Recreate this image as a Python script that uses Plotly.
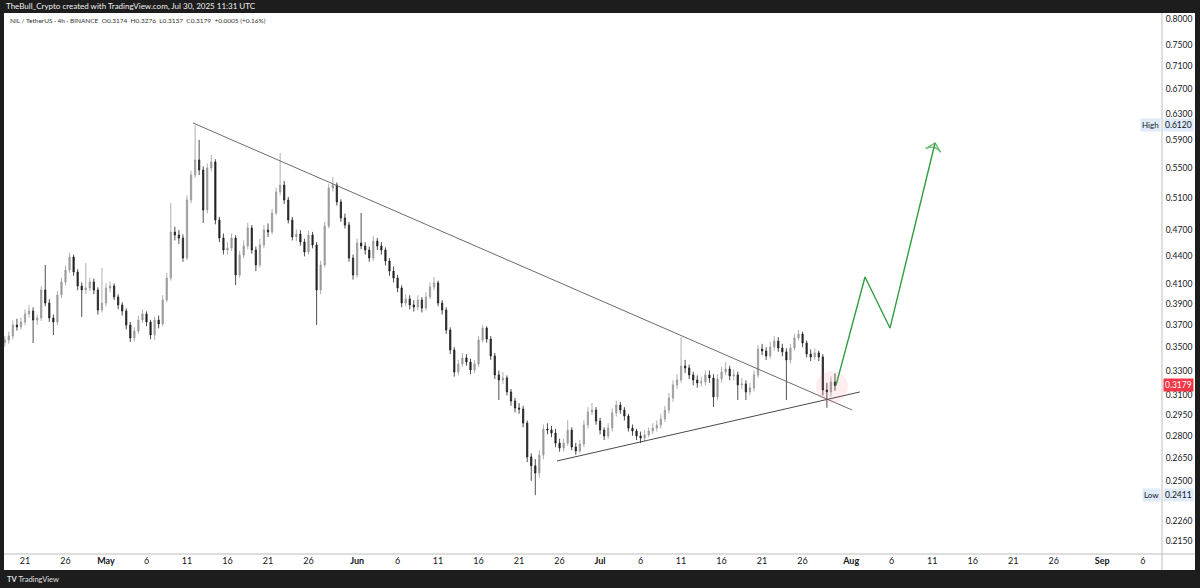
import math
import pandas as pd
import plotly.graph_objects as go

# ---------------- data (12h candles) ----------------
start_time = "2025-04-18 12:00"

opens = [
    0.3540, 0.3564, 0.3600, 0.3701, 0.3683, 0.3729, 0.3806, 0.3834, 0.3748, 0.3768,
    0.4043, 0.3912, 0.3768, 0.3729, 0.3993, 0.4125, 0.4251, 0.4393, 0.4230, 0.4084,
    0.4043, 0.4063, 0.4125, 0.4043, 0.3844, 0.3912, 0.4063, 0.4084, 0.3973, 0.3893,
    0.3834, 0.3701, 0.3582, 0.3646, 0.3748, 0.3806, 0.3729, 0.3609, 0.3748, 0.3711,
    0.3942, 0.4166, 0.4678, 0.4643, 0.4608, 0.4382, 0.5071, 0.5401, 0.5609, 0.5469,
    0.4945, 0.5497, 0.5581, 0.4822, 0.4608, 0.4471, 0.4494, 0.4608, 0.4198, 0.4415,
    0.4516, 0.4726, 0.4471, 0.4306, 0.4528, 0.4702, 0.4678, 0.4908, 0.5175, 0.5266,
    0.5071, 0.4822, 0.4620, 0.4655, 0.4562, 0.4449, 0.4643, 0.4528, 0.4043, 0.4306,
    0.4750, 0.5227, 0.5266, 0.5046, 0.4847, 0.4762, 0.4382, 0.4198, 0.4551, 0.4516,
    0.4471, 0.4382, 0.4573, 0.4516, 0.4471, 0.4349, 0.4240, 0.4166, 0.4063, 0.3912,
    0.3953, 0.3893, 0.3873, 0.3942, 0.3863, 0.3973, 0.4074, 0.4115, 0.3912, 0.3844,
    0.3655, 0.3476, 0.3288, 0.3355, 0.3407, 0.3372, 0.3305, 0.3355, 0.3564, 0.3673,
    0.3573, 0.3424, 0.3264, 0.3223, 0.3239, 0.3127, 0.3056, 0.3003, 0.2995, 0.2891,
    0.2655, 0.2596, 0.2550, 0.2668, 0.2848, 0.2841, 0.2820, 0.2749, 0.2715, 0.2749,
    0.2841, 0.2722, 0.2695, 0.2742, 0.2877, 0.2973, 0.2988, 0.2906, 0.2841, 0.2799,
    0.2855, 0.2966, 0.3026, 0.2988, 0.2943, 0.2855, 0.2834, 0.2799, 0.2784, 0.2806,
    0.2834, 0.2855, 0.2877, 0.2921, 0.2988, 0.3080, 0.3183, 0.3223, 0.3338, 0.3322,
    0.3264, 0.3223, 0.3199, 0.3207, 0.3264, 0.3239, 0.3088, 0.3231, 0.3288, 0.3313,
    0.3256, 0.3264, 0.3183, 0.3191, 0.3127, 0.3159, 0.3264, 0.3484, 0.3467, 0.3424,
    0.3502, 0.3555, 0.3493, 0.3459, 0.3389, 0.3493, 0.3582, 0.3618, 0.3537, 0.3441,
    0.3415, 0.3450, 0.3415, 0.3143, 0.3127, 0.3207,
]

highs = [
    0.3600, 0.3640, 0.3745, 0.3760, 0.3770, 0.3850, 0.3890, 0.3870, 0.3800, 0.4080,
    0.4306, 0.3950, 0.3800, 0.4030, 0.4170, 0.4300, 0.4440, 0.4420, 0.4260, 0.4120,
    0.4328, 0.4170, 0.4160, 0.4070, 0.4273, 0.4110, 0.4130, 0.4110, 0.4000, 0.3920,
    0.3860, 0.3730, 0.3680, 0.3790, 0.3850, 0.3830, 0.3750, 0.3780, 0.3790, 0.3990,
    0.4220, 0.5033, 0.4740, 0.4700, 0.4650, 0.5130, 0.5460, 0.6120, 0.5900, 0.5520,
    0.5560, 0.5680, 0.5620, 0.4860, 0.4660, 0.4560, 0.4660, 0.4640, 0.4460, 0.4580,
    0.4790, 0.4760, 0.4510, 0.4600, 0.4760, 0.4780, 0.4960, 0.5230, 0.5708, 0.5320,
    0.5110, 0.4860, 0.4710, 0.4700, 0.4600, 0.4690, 0.4680, 0.4560, 0.4350, 0.4800,
    0.5280, 0.5373, 0.5300, 0.5080, 0.4900, 0.4800, 0.4420, 0.4600, 0.4908, 0.4560,
    0.4510, 0.4630, 0.4610, 0.4560, 0.4500, 0.4380, 0.4290, 0.4200, 0.4090, 0.4000,
    0.3990, 0.3940, 0.3990, 0.3970, 0.4020, 0.4120, 0.4180, 0.4140, 0.3940, 0.3870,
    0.3680, 0.3500, 0.3390, 0.3450, 0.3440, 0.3400, 0.3390, 0.3600, 0.3701, 0.3690,
    0.3600, 0.3450, 0.3300, 0.3290, 0.3260, 0.3150, 0.3080, 0.3040, 0.3020, 0.2910,
    0.2680, 0.2640, 0.2700, 0.2880, 0.2890, 0.2870, 0.2850, 0.2780, 0.2780, 0.2913,
    0.2860, 0.2750, 0.2770, 0.2910, 0.3010, 0.3041, 0.3010, 0.2930, 0.2860, 0.2890,
    0.3000, 0.3060, 0.3050, 0.3010, 0.2960, 0.2880, 0.2850, 0.2830, 0.2840, 0.2860,
    0.2890, 0.2910, 0.2960, 0.3020, 0.3120, 0.3220, 0.3270, 0.3591, 0.3390, 0.3350,
    0.3290, 0.3260, 0.3250, 0.3300, 0.3300, 0.3270, 0.3270, 0.3330, 0.3370, 0.3340,
    0.3310, 0.3290, 0.3240, 0.3220, 0.3200, 0.3300, 0.3520, 0.3530, 0.3500, 0.3550,
    0.3600, 0.3590, 0.3530, 0.3490, 0.3530, 0.3620, 0.3655, 0.3640, 0.3560, 0.3480,
    0.3490, 0.3470, 0.3440, 0.3200, 0.3250, 0.3276,
]

lows = [
    0.3505, 0.3530, 0.3570, 0.3650, 0.3660, 0.3700, 0.3770, 0.3537, 0.3700, 0.3740,
    0.3880, 0.3730, 0.3609, 0.3700, 0.3960, 0.4090, 0.4220, 0.4190, 0.4040, 0.3776,
    0.4000, 0.4030, 0.4000, 0.3800, 0.3820, 0.3880, 0.4020, 0.3940, 0.3850, 0.3790,
    0.3660, 0.3545, 0.3550, 0.3620, 0.3720, 0.3690, 0.3570, 0.3564, 0.3670, 0.3690,
    0.3920, 0.4140, 0.4580, 0.4540, 0.4340, 0.4360, 0.5030, 0.5360, 0.5400, 0.4786,
    0.4900, 0.5450, 0.4770, 0.4560, 0.4420, 0.4420, 0.4460, 0.4094, 0.4170, 0.4380,
    0.4480, 0.4430, 0.4240, 0.4280, 0.4490, 0.4620, 0.4650, 0.4880, 0.5130, 0.5020,
    0.4780, 0.4580, 0.4570, 0.4520, 0.4400, 0.4420, 0.4490, 0.3701, 0.4000, 0.4280,
    0.4720, 0.5180, 0.5000, 0.4800, 0.4720, 0.4340, 0.4150, 0.4170, 0.4480, 0.4420,
    0.4340, 0.4350, 0.4470, 0.4420, 0.4300, 0.4190, 0.4120, 0.4020, 0.3870, 0.3880,
    0.3850, 0.3830, 0.3840, 0.3820, 0.3840, 0.3950, 0.4040, 0.3880, 0.3800, 0.3620,
    0.3440, 0.3250, 0.3260, 0.3330, 0.3340, 0.3270, 0.3280, 0.3330, 0.3540, 0.3540,
    0.3390, 0.3230, 0.3064, 0.3190, 0.3100, 0.3020, 0.2970, 0.2960, 0.2860, 0.2620,
    0.2500, 0.2411, 0.2520, 0.2640, 0.2810, 0.2790, 0.2720, 0.2690, 0.2690, 0.2730,
    0.2700, 0.2670, 0.2680, 0.2720, 0.2850, 0.2950, 0.2880, 0.2810, 0.2770, 0.2780,
    0.2830, 0.2940, 0.2960, 0.2910, 0.2830, 0.2800, 0.2770, 0.2749, 0.2760, 0.2790,
    0.2810, 0.2830, 0.2850, 0.2900, 0.2960, 0.3050, 0.3150, 0.3200, 0.3280, 0.3230,
    0.3180, 0.3160, 0.3170, 0.3180, 0.3200, 0.3011, 0.3060, 0.3200, 0.3260, 0.3220,
    0.3220, 0.3064, 0.3150, 0.3064, 0.3100, 0.3130, 0.3240, 0.3430, 0.3390, 0.3400,
    0.3470, 0.3460, 0.3420, 0.3064, 0.3360, 0.3470, 0.3560, 0.3500, 0.3410, 0.3380,
    0.3390, 0.3380, 0.3100, 0.3005, 0.3090, 0.3137,
]

closes = [
    0.3564, 0.3600, 0.3701, 0.3683, 0.3729, 0.3806, 0.3834, 0.3748, 0.3768, 0.4043,
    0.3912, 0.3768, 0.3729, 0.3993, 0.4125, 0.4251, 0.4393, 0.4230, 0.4084, 0.4043,
    0.4063, 0.4125, 0.4043, 0.3844, 0.3912, 0.4063, 0.4084, 0.3973, 0.3893, 0.3834,
    0.3701, 0.3582, 0.3646, 0.3748, 0.3806, 0.3729, 0.3609, 0.3748, 0.3711, 0.3942,
    0.4166, 0.4678, 0.4643, 0.4608, 0.4382, 0.5071, 0.5401, 0.5609, 0.5469, 0.4945,
    0.5497, 0.5581, 0.4822, 0.4608, 0.4471, 0.4494, 0.4608, 0.4198, 0.4415, 0.4516,
    0.4726, 0.4471, 0.4306, 0.4528, 0.4702, 0.4678, 0.4908, 0.5175, 0.5266, 0.5071,
    0.4822, 0.4620, 0.4655, 0.4562, 0.4449, 0.4643, 0.4528, 0.4043, 0.4306, 0.4750,
    0.5227, 0.5266, 0.5046, 0.4847, 0.4762, 0.4382, 0.4198, 0.4551, 0.4516, 0.4471,
    0.4382, 0.4573, 0.4516, 0.4471, 0.4349, 0.4240, 0.4166, 0.4063, 0.3912, 0.3953,
    0.3893, 0.3873, 0.3942, 0.3863, 0.3973, 0.4074, 0.4115, 0.3912, 0.3844, 0.3655,
    0.3476, 0.3288, 0.3355, 0.3407, 0.3372, 0.3305, 0.3355, 0.3564, 0.3673, 0.3573,
    0.3424, 0.3264, 0.3223, 0.3239, 0.3127, 0.3056, 0.3003, 0.2995, 0.2891, 0.2655,
    0.2596, 0.2550, 0.2668, 0.2848, 0.2841, 0.2820, 0.2749, 0.2715, 0.2749, 0.2841,
    0.2722, 0.2695, 0.2742, 0.2877, 0.2973, 0.2988, 0.2906, 0.2841, 0.2799, 0.2855,
    0.2966, 0.3026, 0.2988, 0.2943, 0.2855, 0.2834, 0.2799, 0.2784, 0.2806, 0.2834,
    0.2855, 0.2877, 0.2921, 0.2988, 0.3080, 0.3183, 0.3223, 0.3338, 0.3322, 0.3264,
    0.3223, 0.3199, 0.3207, 0.3264, 0.3239, 0.3088, 0.3231, 0.3288, 0.3313, 0.3256,
    0.3264, 0.3183, 0.3191, 0.3127, 0.3159, 0.3264, 0.3484, 0.3467, 0.3424, 0.3502,
    0.3555, 0.3493, 0.3459, 0.3389, 0.3493, 0.3582, 0.3618, 0.3537, 0.3441, 0.3415,
    0.3450, 0.3415, 0.3143, 0.3127, 0.3207, 0.3179,
]

# price-axis ticks
y_ticks = [0.8000, 0.7500, 0.7100, 0.6700, 0.6300, 0.5900, 0.5500, 0.5100, 0.4700,
           0.4400, 0.4100, 0.3900, 0.3700, 0.3500, 0.3300, 0.3100, 0.2950, 0.2800,
           0.2650, 0.2500, 0.2260, 0.2150]

# time-axis ticks
x_tick_dates = ["2025-04-21", "2025-04-26", "2025-05-01", "2025-05-06", "2025-05-11",
                "2025-05-16", "2025-05-21", "2025-05-26", "2025-06-01", "2025-06-06",
                "2025-06-11", "2025-06-16", "2025-06-21", "2025-06-26", "2025-07-01",
                "2025-07-06", "2025-07-11", "2025-07-16", "2025-07-21", "2025-07-26",
                "2025-08-01", "2025-08-06", "2025-08-11", "2025-08-16", "2025-08-21",
                "2025-08-26", "2025-09-01", "2025-09-06"]
x_tick_labels = ["21", "26", "<b>May</b>", "6", "11", "16", "21", "26", "<b>Jun</b>", "6",
                 "11", "16", "21", "26", "<b>Jul</b>", "6", "11", "16", "21", "26",
                 "<b>Aug</b>", "6", "11", "16", "21", "26", "<b>Sep</b>", "6"]

# drawings
desc_line_dates = ["2025-05-11 17:45", "2025-08-01 02:30"]
desc_line_prices = [0.6157, 0.2988]
asc_line_dates = ["2025-06-25 16:20", "2025-08-02 02:00"]
asc_line_prices = [0.2628, 0.3127]
proj_dates = ["2025-07-30 03:00", "2025-08-02 17:00", "2025-08-05 19:00", "2025-08-11 08:30"]
proj_prices = [0.3179, 0.4177, 0.3673, 0.5854]
circle_date = ["2025-07-29 15:00"]
circle_price = [0.3167]

last_price = 0.3179
high_price = 0.6120
low_price = 0.2411
x_range = ["2025-04-18 09:45", "2025-09-08 09:00"]
y_range = [0.2079, 0.8122]

dates = pd.date_range(start_time, periods=len(closes), freq="12h")

# ---------------- figure ----------------
W, H = 1200, 588
ML, MR, MT, MB = 4, 38, 13, 34
PW, PH = W - ML - MR, H - MT - MB


def px_x(px):
    return (px - ML) / PW


def px_y(py):
    return (H - MB - py) / PH


FONT = "Lato, 'Liberation Sans', sans-serif"
TXT = "#131722"

fig = go.Figure()

fig.add_trace(go.Candlestick(
    x=dates, open=opens, high=highs, low=lows, close=closes,
    increasing=dict(line=dict(color="#9a9a9a", width=0.8), fillcolor="#9a9a9a"),
    decreasing=dict(line=dict(color="#222222", width=0.8), fillcolor="#222222"),
    whiskerwidth=0, hoverinfo="skip", showlegend=False,
))

fig.add_trace(go.Scatter(
    x=desc_line_dates, y=desc_line_prices, mode="lines",
    line=dict(color="#6b6b6b", width=1), hoverinfo="skip", showlegend=False))
fig.add_trace(go.Scatter(
    x=asc_line_dates, y=asc_line_prices, mode="lines",
    line=dict(color="#4a4a4a", width=1), hoverinfo="skip", showlegend=False))

fig.add_trace(go.Scatter(
    x=circle_date, y=circle_price, mode="markers",
    marker=dict(size=32, color="rgba(242,90,100,0.10)", line=dict(width=0)),
    hoverinfo="skip", showlegend=False))

fig.add_trace(go.Scatter(
    x=proj_dates, y=proj_prices, mode="lines+markers",
    line=dict(color="#2f9e3f", width=1.4),
    marker=dict(size=[0, 0, 0, 11], symbol="arrow-wide-open", angleref="previous",
                color="#2f9e3f", line=dict(color="#2f9e3f", width=1.4)),
    hoverinfo="skip", showlegend=False))

shapes = [
    dict(type="rect", xref="paper", yref="paper", x0=0, x1=px_x(1195), y0=px_y(570), y1=1,
         fillcolor="white", line=dict(width=0), layer="below"),
    dict(type="line", xref="paper", yref="y", x0=0, x1=1,
         y0=math.log10(last_price), y1=math.log10(last_price),
         line=dict(color="#dcdcdc", width=1), layer="below"),
    dict(type="line", xref="paper", yref="paper", x0=1, x1=1, y0=px_y(570), y1=1,
         line=dict(color="#bdbdbd", width=1)),
    dict(type="line", xref="paper", yref="paper", x0=0, x1=px_x(1195), y0=0, y1=0,
         line=dict(color="#bdbdbd", width=1)),
]

ann = []
ann.append(dict(xref="paper", yref="paper", x=px_x(4), y=px_y(6), xanchor="left", yanchor="middle",
                text="TheBull_Crypto created with TradingView.com, Jul 30, 2025 11:31 UTC",
                showarrow=False, font=dict(family=FONT, size=8, color="#f0f0f0")))
ann.append(dict(xref="paper", yref="paper", x=px_x(8), y=px_y(20), xanchor="left", yanchor="middle",
                text="NIL / TetherUS · 4h · BINANCE  O0.3174  H0.3276  L0.3137  C0.3179  +0.0005 (+0.16%)",
                showarrow=False, font=dict(family=FONT, size=6.5, color="#333333")))
ann.append(dict(xref="paper", yref="paper", x=px_x(5), y=px_y(579), xanchor="left", yanchor="middle",
                text="<b>TV</b> TradingView", showarrow=False,
                font=dict(family=FONT, size=7.5, color="#e0e0e0")))
ann.append(dict(xref="paper", yref="y", x=px_x(1163), y=math.log10(last_price), xanchor="left",
                yanchor="middle", text=f"{last_price:.4f}", showarrow=False, bgcolor="#f23645",
                borderpad=1, font=dict(family=FONT, size=8.5, color="white")))
for lbl, val in (("High", high_price), ("Low", low_price)):
    ann.append(dict(xref="paper", yref="y", x=px_x(1163), y=math.log10(val), xanchor="left",
                    yanchor="middle", text=f"{val:.4f}", showarrow=False, bgcolor="#dfeafa",
                    borderpad=1, font=dict(family=FONT, size=8.5, color=TXT)))
    ann.append(dict(xref="paper", yref="y", x=px_x(1161), y=math.log10(val), xanchor="right",
                    yanchor="middle", text=lbl, showarrow=False, bgcolor="#dfeafa",
                    borderpad=1, font=dict(family=FONT, size=8, color=TXT)))

fig.update_layout(
    width=W, height=H,
    margin=dict(l=ML, r=MR, t=MT, b=MB, pad=0),
    paper_bgcolor="#1d1d1d", plot_bgcolor="white",
    showlegend=False, hovermode=False,
    boxgap=0.55,
    shapes=shapes, annotations=ann,
    xaxis=dict(type="date", range=x_range, rangeslider=dict(visible=False),
               showgrid=False, zeroline=False, showline=False,
               tickmode="array", tickvals=x_tick_dates, ticktext=x_tick_labels,
               ticks="", tickfont=dict(family=FONT, size=9, color=TXT)),
    yaxis=dict(type="log", side="right", range=[math.log10(y_range[0]), math.log10(y_range[1])],
               showgrid=False, zeroline=False, showline=False,
               tickmode="array", tickvals=y_ticks, ticktext=[f"{v:.4f}" for v in y_ticks],
               ticks="outside", ticklen=1, tickcolor="rgba(0,0,0,0)",
               tickfont=dict(family=FONT, size=8.5, color=TXT)),
)

fig.write_html("out.html", config={"displayModeBar": False},
               post_script="document.body.style.margin='0';document.body.style.overflow='hidden';")
